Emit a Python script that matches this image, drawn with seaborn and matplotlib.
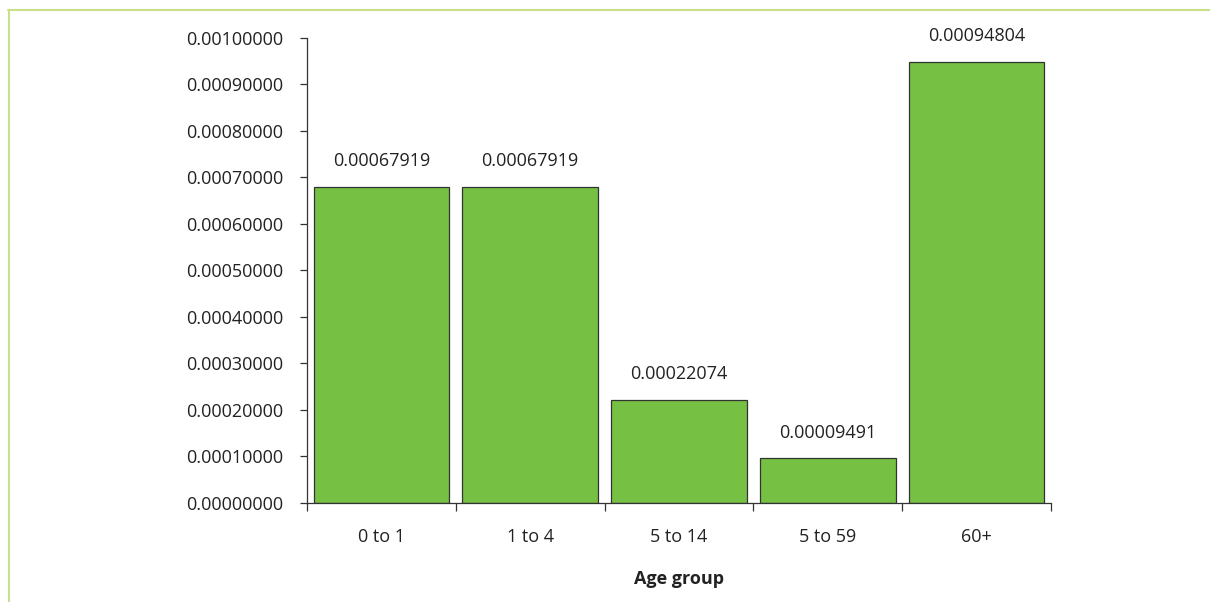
import matplotlib
matplotlib.use('Agg')
import matplotlib.pyplot as plt
import seaborn as sns
import pandas as pd
from matplotlib.lines import Line2D
from matplotlib.ticker import FormatStrFormatter, FixedLocator

# datos del grafico
grupos = ['0 to 1', '1 to 4', '5 to 14', '5 to 59', '60+']
valores = [0.00067919, 0.00067919, 0.00022074, 0.00009491, 0.00094804]
etiquetas = ['0.00067919', '0.00067919', '0.00022074', '0.00009491', '0.00094804']

df = pd.DataFrame({'grupo': grupos, 'valor': valores})

sns.set_style('white')
plt.rcParams['font.family'] = ['Open Sans', 'DejaVu Sans']

fig = plt.figure(figsize=(12.1, 6.02), dpi=100)
ax = fig.add_axes([307/1210, (602-502.5)/602, (1051-307)/1210, (502.5-38)/602])

sns.barplot(data=df, x='grupo', y='valor', color='#76c043', edgecolor='#333333',
            linewidth=0.9, width=0.91, saturation=1, ax=ax)

# etiquetas de valor sobre cada barra
for i, (v, t) in enumerate(zip(valores, etiquetas)):
    ax.text(i, v + 0.000036, t, ha='center', va='bottom', fontsize=13, color='#222222')

ax.set_ylim(0, 0.001)
ax.set_xlim(-0.5, len(grupos) - 0.5)
ax.set_yticks([i * 0.0001 for i in range(11)])
ax.yaxis.set_major_formatter(FormatStrFormatter('%.8f'))

# ticks en los limites de cada categoria, etiquetas en el centro
ax.xaxis.set_major_locator(FixedLocator([i - 0.5 for i in range(len(grupos) + 1)]))
ax.xaxis.set_minor_locator(FixedLocator(list(range(len(grupos)))))
ax.set_xticklabels([''] * (len(grupos) + 1))
ax.set_xticklabels(grupos, minor=True)
ax.tick_params(axis='x', which='major', direction='out', length=6, width=0.9, color='#333333', bottom=True)
ax.tick_params(axis='x', which='minor', length=0, pad=18, labelsize=13, labelcolor='#222222')
ax.tick_params(axis='y', direction='out', length=5, width=0.9, color='#333333', left=True,
               labelsize=13, labelcolor='#222222', pad=12)

for s in ['top', 'right']:
    ax.spines[s].set_visible(False)
for s in ['left', 'bottom']:
    ax.spines[s].set_color('#333333')
    ax.spines[s].set_linewidth(0.9)

ax.set_xlabel('Age group', fontsize=13, fontweight='bold', color='#222222', labelpad=18)
ax.set_ylabel('')

# marco verde
fig.add_artist(Line2D([8/1210, 1], [1 - 10/602, 1 - 10/602], color='#c8e08a', lw=1.5))
fig.add_artist(Line2D([9/1210, 9/1210], [0, 1 - 10/602], color='#c8e08a', lw=1.5))

fig.savefig('out.png', dpi=100)
